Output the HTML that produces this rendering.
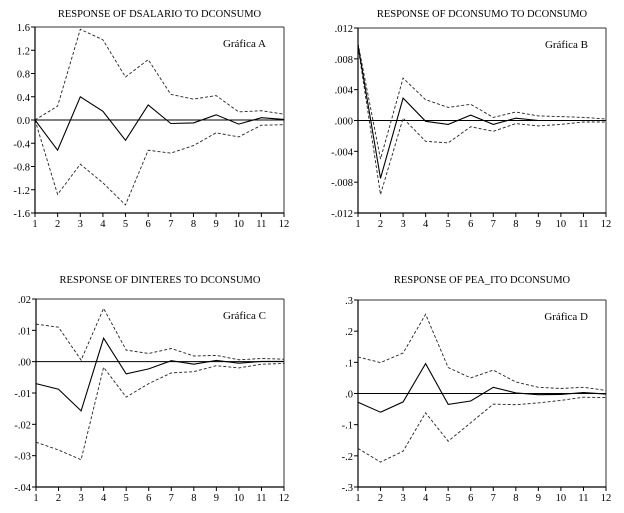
<!DOCTYPE html>
<html><head><meta charset="utf-8">
<style>
html,body{margin:0;padding:0;background:#fff;}
svg{display:block;font-family:"Liberation Serif",serif;}
</style></head>
<body>
<svg id="chart" width="624" height="513" viewBox="0 0 624 513"></svg>
<script>
const periods = [1,2,3,4,5,6,7,8,9,10,11,12];
const aSolid = [0,-0.52,0.40,0.15,-0.35,0.26,-0.06,-0.05,0.09,-0.07,0.04,0.01];
const aUpper = [0,0.24,1.56,1.38,0.74,1.04,0.44,0.36,0.42,0.14,0.16,0.10];
const aLower = [0,-1.28,-0.76,-1.08,-1.46,-0.52,-0.57,-0.44,-0.22,-0.29,-0.09,-0.08];
const aTicks = ["1.6","1.2","0.8","0.4","0.0","-0.4","-0.8","-1.2","-1.6"];
const bSolid = [0.0098,-0.0075,0.0029,-0.0001,-0.0005,0.0007,-0.0005,0.0003,0,0,0,0];
const bUpper = [0.0100,-0.0050,0.0055,0.0027,0.0017,0.0021,0.0004,0.0011,0.0006,0.0005,0.0004,0.0002];
const bLower = [0.0096,-0.0096,0.0003,-0.0027,-0.0029,-0.0008,-0.0014,-0.0004,-0.0007,-0.0005,-0.0002,-0.0002];
const bTicks = [".012",".008",".004",".000","-.004","-.008","-.012"];
const cSolid = [-0.007,-0.0088,-0.0157,0.0075,-0.0039,-0.0023,0.0003,-0.0008,0.0004,-0.0005,0.0001,0.0001];
const cUpper = [0.012,0.011,0.0005,0.017,0.0037,0.0026,0.0042,0.0018,0.0020,0.0006,0.0010,0.0008];
const cLower = [-0.0257,-0.0282,-0.0313,-0.0018,-0.0113,-0.0070,-0.0036,-0.0032,-0.0013,-0.0020,-0.0008,-0.0006];
const cTicks = [".02",".01",".00","-.01","-.02","-.03","-.04"];
const dSolid = [-0.028,-0.060,-0.027,0.096,-0.035,-0.024,0.020,0.002,-0.004,-0.003,0.003,-0.002];
const dUpper = [0.117,0.099,0.13,0.254,0.083,0.050,0.075,0.037,0.020,0.016,0.020,0.010];
const dLower = [-0.176,-0.220,-0.185,-0.062,-0.153,-0.094,-0.034,-0.036,-0.030,-0.022,-0.012,-0.013];
const dTicks = [".3",".2",".1",".0","-.1","-.2","-.3"];

const svg = document.getElementById('chart');
const NS = 'http://www.w3.org/2000/svg';
function mk(tag, attrs, parent){
  const e = document.createElementNS(NS, tag);
  for (const k in attrs) e.setAttribute(k, attrs[k]);
  parent.appendChild(e); return e;
}
function panel(cfg){
  const g = mk('g', {}, svg);
  
  
  const {x0,x1,y0,y1,min,max} = cfg;
  const xs = p => x0 + (p-1)/(periods.length-1)*(x1-x0);
  const ys = v => y1 - (v-min)/(max-min)*(y1-y0);
  const t = mk('text', {x:(x0+x1)/2, y:cfg.ty, 'text-anchor':'middle', 'font-size':'10.5'}, g);
  t.textContent = cfg.title;
  
  
  const lab = mk('text', {x:x1-18, y:y0+20, 'text-anchor':'end', 'font-size':'11'}, g);
  lab.textContent = cfg.label;
  
  
  // ticks
  cfg.ticks.forEach(s => {
    const v = parseFloat(s), y = ys(v);
    mk('line', {x1:x0-4, x2:x0, y1:y, y2:y, stroke:'#000', 'stroke-width':1}, g);
    const tl = mk('text', {x:x0-5, y:y+4, 'text-anchor':'end', 'font-size':'10.5'}, g);
    tl.textContent = s;
    
    
  });
  periods.forEach(p => {
    const x = xs(p);
    mk('line', {x1:x, x2:x, y1:y1, y2:y1+4, stroke:'#000', 'stroke-width':1}, g);
    const tl = mk('text', {x:x, y:y1+14, 'text-anchor':'middle', 'font-size':'10.5'}, g);
    tl.textContent = String(p);
    
    
  });
  // frame
  mk('line', {x1:x0, x2:x1, y1:y0, y2:y0, stroke:'#999', 'stroke-width':2}, g);
  mk('line', {x1:x1, x2:x1, y1:y0, y2:y1, stroke:'#333', 'stroke-width':1}, g);
  mk('line', {x1:x0, x2:x0, y1:y0, y2:y1, stroke:'#000', 'stroke-width':1.2}, g);
  mk('line', {x1:x0, x2:x1, y1:y1, y2:y1, stroke:'#000', 'stroke-width':1.2}, g);
  const zl = mk('line', {x1:x0, x2:x1, y1:ys(0), y2:ys(0), stroke:'#000', 'stroke-width':1}, g);
  
  
  const path = arr => arr.map((v,i)=>(i?'L':'M')+xs(periods[i]).toFixed(1)+','+ys(v).toFixed(1)).join('');
  const up = mk('path', {d:path(cfg.upper), fill:'none', stroke:'#222', 'stroke-width':0.9, 'stroke-dasharray':'3,2'}, g);
  
  
  const lo = mk('path', {d:path(cfg.lower), fill:'none', stroke:'#222', 'stroke-width':0.9, 'stroke-dasharray':'3,2'}, g);
  
  
  const so = mk('path', {d:path(cfg.solid), fill:'none', stroke:'#000', 'stroke-width':1.1}, g);
  
  
}
panel({id:'panel-a', title:'RESPONSE OF DSALARIO TO DCONSUMO', label:'Gráfica A', ty:17,
  x0:35, x1:284, y0:27, y1:213, min:-1.6, max:1.6, ticks:aTicks, solid:aSolid, upper:aUpper, lower:aLower});
panel({id:'panel-b', title:'RESPONSE OF DCONSUMO TO DCONSUMO', label:'Gráfica B', ty:17,
  x0:358, x1:606, y0:28, y1:213, min:-0.012, max:0.012, ticks:bTicks, solid:bSolid, upper:bUpper, lower:bLower});
panel({id:'panel-c', title:'RESPONSE OF DINTERES TO DCONSUMO', label:'Gráfica C', ty:283,
  x0:36, x1:284, y0:299, y1:487, min:-0.04, max:0.02, ticks:cTicks, solid:cSolid, upper:cUpper, lower:cLower});
panel({id:'panel-d', title:'RESPONSE OF PEA_ITO DCONSUMO', label:'Gráfica D', ty:283,
  x0:358, x1:606, y0:300, y1:487, min:-0.3, max:0.3, ticks:dTicks, solid:dSolid, upper:dUpper, lower:dLower});
</script>
</body></html>
